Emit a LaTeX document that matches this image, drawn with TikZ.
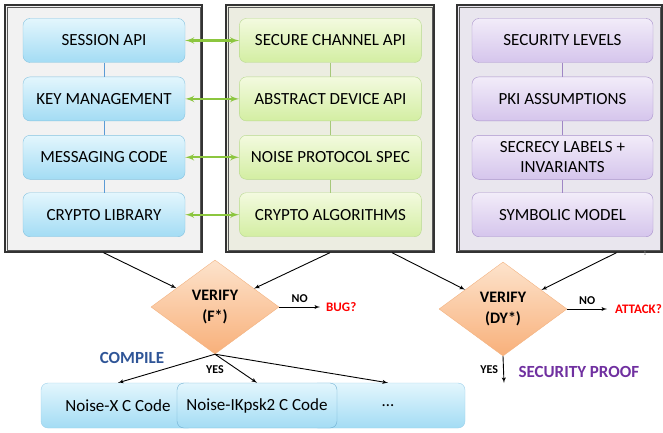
\documentclass[tikz,border=0pt]{standalone}
\usepackage{fontspec}
\setmainfont{Carlito}
\usetikzlibrary{
arrows,
arrows.meta,
positioning,
shapes.geometric
}
\tikzset{>=latex}

\definecolor{bluetop}{HTML}{E3F6FD}
\definecolor{bluebot}{HTML}{A3DCF4}
\definecolor{blueline}{HTML}{86C3E0}
\definecolor{bluelink}{HTML}{5B9BD5}
\definecolor{greentop}{HTML}{F3FADF}
\definecolor{greenbot}{HTML}{D3EEA2}
\definecolor{greenline}{HTML}{B8D98F}
\definecolor{greenlink}{HTML}{A6C87A}
\definecolor{purptop}{HTML}{F2ECF9}
\definecolor{purpbot}{HTML}{D5C5EC}
\definecolor{purpline}{HTML}{A992CC}
\definecolor{purplink}{HTML}{9F86C5}
\definecolor{orngtop}{HTML}{FDE3CC}
\definecolor{orngbot}{HTML}{F8B07A}
\definecolor{orngline}{HTML}{F3B382}
\definecolor{panelgray}{HTML}{F2F2F2}
\definecolor{panelgreen}{HTML}{ECEDE1}
\definecolor{panelpurple}{HTML}{E9E6EE}
\definecolor{arrowgreen}{HTML}{8CC63F}
\definecolor{compileblue}{HTML}{2F5597}
\definecolor{proofpurple}{HTML}{7030A0}
\definecolor{codeline}{HTML}{9CD0EA}
\definecolor{codeline2}{HTML}{6FAFD2}

\tikzset{
	panel/.style={draw=black!80,line width=1.3pt,inner sep=0pt},
	frame/.style={draw=black!65,line width=0.6pt},
	box/.style={rounded corners=7pt,minimum height=44pt,inner sep=2pt,align=center,font=\fontsize{17}{20}\selectfont},
	bluebox/.style={box,draw=blueline,top color=bluetop,bottom color=bluebot,minimum width=162pt},
	greenbox/.style={box,draw=greenline,top color=greentop,bottom color=greenbot,minimum width=182pt},
	purpbox/.style={box,draw=purpline,top color=purptop,bottom color=purpbot,minimum width=181pt},
	codebox/.style={box,draw=codeline,top color=bluetop,bottom color=bluebot,minimum height=45pt},
	verify/.style={diamond,draw=orngline,top color=orngtop,bottom color=orngbot,minimum width=128pt,minimum height=94pt,aspect=1.36,inner sep=0pt,align=center,font=\bfseries\fontsize{16}{21}\selectfont},
	lbl/.style={font=\bfseries\fontsize{12}{13}\selectfont,inner sep=1pt},
	link/.style={<->,draw=arrowgreen,line width=2.1pt},
	flow/.style={->,line width=0.9pt}
}

\begin{document}
\begin{tikzpicture}[x=1pt,y=-1pt,node distance=14pt,auto,>=latex']
		\def\ts{\bfseries\fontsize{17}{20}\selectfont}
		\def\rs{\bfseries\fontsize{13}{15}\selectfont}
		\useasboundingbox (0,0) rectangle (663,433);
		
		\node[panel,fill=panelgray,minimum width=197pt,minimum height=247pt] at (103.5,128.5) (codepanel) {};
		\node[panel,fill=panelgreen,minimum width=208pt,minimum height=247pt] at (330,128.5) (specpanel) {};
		\node[panel,fill=panelpurple,minimum width=205pt,minimum height=247pt] at (559.5,128.5) (modelpanel) {};
		\draw[frame] ([shift={(2.8pt,-2.8pt)}]codepanel.north west) rectangle ([shift={(-2.8pt,2.8pt)}]codepanel.south east);
		\draw[frame] ([shift={(2.8pt,-2.8pt)}]specpanel.north west) rectangle ([shift={(-2.8pt,2.8pt)}]specpanel.south east);
		\draw[frame] ([shift={(2.8pt,-2.8pt)}]modelpanel.north west) rectangle ([shift={(-2.8pt,2.8pt)}]modelpanel.south east);
		
		\node[bluebox] at (104,40.5) (session) {SESSION API};
		\node[bluebox,below=of session] (keymgmt) {KEY MANAGEMENT};
		\node[bluebox,below=of keymgmt] (messaging) {MESSAGING CODE};
		\node[bluebox,below=13pt of messaging] (cryptolib) {CRYPTO LIBRARY};
		
		\node[greenbox,right=54pt of session] (secchan) {SECURE CHANNEL API};
		\node[greenbox,below=of secchan] (absdev) {ABSTRACT DEVICE API};
		\node[greenbox,below=of absdev] (noisespec) {NOISE PROTOCOL SPEC};
		\node[greenbox,below=13pt of noisespec] (cryptoalg) {CRYPTO ALGORITHMS};
		
		\node[purpbox] at (562.5,40.5) (seclevels) {SECURITY LEVELS};
		\node[purpbox,below=of seclevels] (pki) {PKI ASSUMPTIONS};
		\node[purpbox,below=of pki] (secrecy) {SECRECY LABELS +\\INVARIANTS};
		\node[purpbox,below=13pt of secrecy] (symbolic) {SYMBOLIC MODEL};
		
		\draw[bluelink] (session) -- (keymgmt);
		\draw[bluelink] (keymgmt) -- (messaging);
		\draw[bluelink] (messaging) -- (cryptolib);
		\draw[greenlink] (secchan) -- (absdev);
		\draw[greenlink] (absdev) -- (noisespec);
		\draw[greenlink] (noisespec) -- (cryptoalg);
		\draw[purplink] (seclevels) -- (pki);
		\draw[purplink] (pki) -- (secrecy);
		\draw[purplink] (secrecy) -- (symbolic);
		
		\draw[link] (session) -- (secchan);
		\draw[link] (keymgmt) -- (absdev);
		\draw[link] (messaging) -- (noisespec);
		\draw[link] (cryptolib) -- (cryptoalg);
		
		\node[verify] at (215,307) (verifyf) {VERIFY\\(F*)};
		\node[verify] at (503,309) (verifydy) {VERIFY\\(DY*)};
		
		\draw[flow] (codepanel.south) -- (verifyf);
		\draw[flow] (specpanel.south) -- (verifyf);
		\draw[flow] ([xshift=62pt]specpanel.south) -- (verifydy);
		\draw[flow] ([xshift=57pt]modelpanel.south) -- (verifydy);
		
		\node[anchor=west,inner sep=1pt,inner xsep=6pt,text=red] at (320,307) (bug) {\rs BUG?};
		\draw[flow] (verifyf.east) -- node[lbl,above=3pt] {NO} (bug.west);
		\node[anchor=west,inner sep=1pt,inner xsep=8pt,text=red] at (607,309) (attack) {\rs ATTACK?};
		\draw[flow] (verifydy.east) -- node[lbl,above=3pt] {NO} (attack.west);
		
		\coordinate (proofend) at (504,383);
		\draw[flow] (verifydy.south) -- node[lbl,left=4pt] {YES} (proofend);
		\node[anchor=west,text=proofpurple] at (515,372) (proof) {\ts SECURITY PROOF};
		
		\node[text=compileblue] at (132,358) (compile) {\ts COMPILE};
		\node[lbl,below=10pt of verifyf.south] (yesf) {YES};
		
		\node[codebox,minimum width=154pt] at (118,405.5) (noisex) {Noise-X C Code};
		\node[codebox,minimum width=154pt] at (388,405.5) (more) {…};
		\node[codebox,draw=codeline2,minimum width=160pt] at (257,405.5) (noiseik) {Noise-IKpsk2 C Code};
		
		\draw[flow] (verifyf.south) -- (noisex.north);
		\draw[flow] (verifyf.south) -- (noiseik.north);
		\draw[flow] (verifyf.south) -- (more.north);
		
		\node[font=\fontsize{6}{7}\selectfont,text=black!45,inner sep=0pt] at (645,254) (pagenum) {1};
\end{tikzpicture}
\end{document}
